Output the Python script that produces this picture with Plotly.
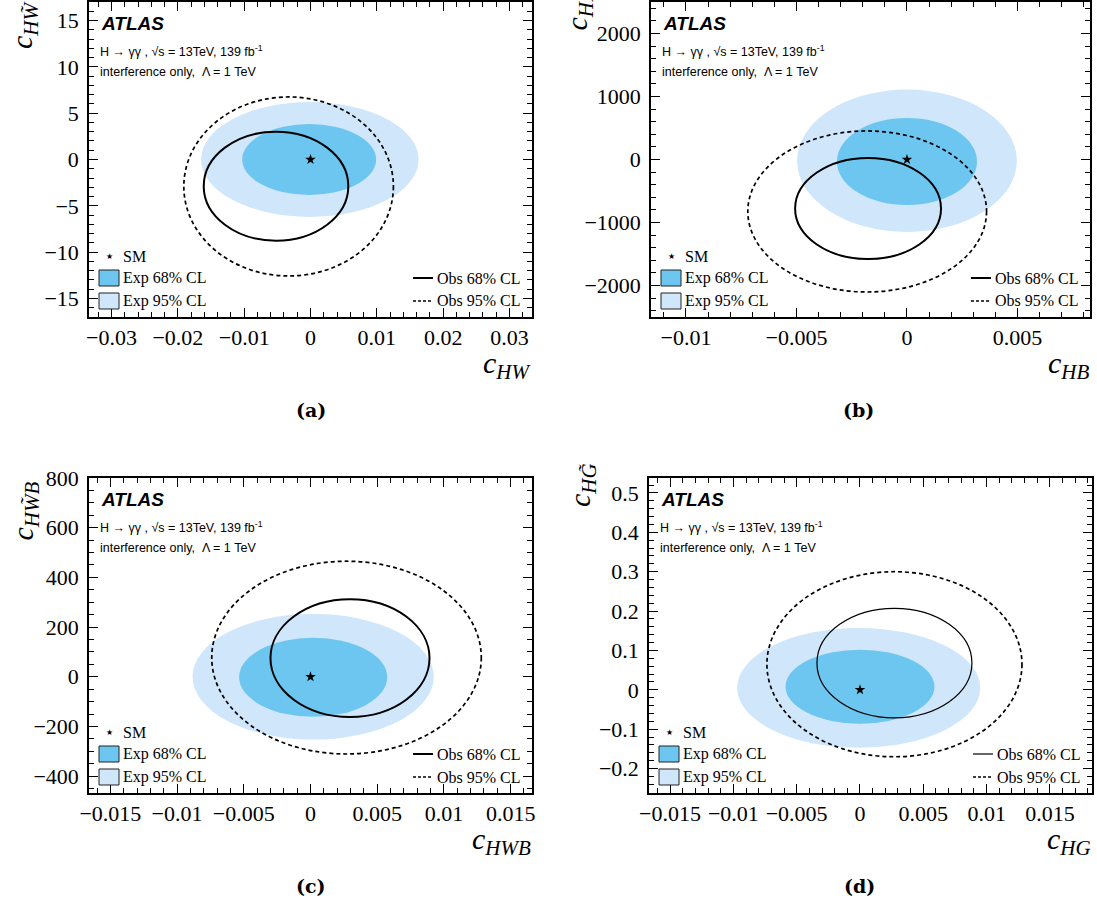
import plotly.graph_objects as go

W, H = 1097, 910

# ---- data ----
panel_tags = ["(a)", "(b)", "(c)", "(d)"]
x_subs = ["HW", "HB", "HWB", "HG"]
y_subs = ["HW\u0303", "HB\u0303", "HW\u0303B", "HG\u0303"]

x_lo = [-0.0334, -0.01158, -0.0166, -0.01666]
x_hi = [0.0334, 0.00828, 0.0166, 0.01832]
y_lo = [-17, -2500, -468, -0.262]
y_hi = [17, 2500, 800, 0.538]

x_ticks = [[-0.03, -0.02, -0.01, 0, 0.01, 0.02, 0.03],
           [-0.01, -0.005, 0, 0.005],
           [-0.015, -0.01, -0.005, 0, 0.005, 0.01, 0.015],
           [-0.015, -0.01, -0.005, 0, 0.005, 0.01, 0.015]]
y_ticks = [[-15, -10, -5, 0, 5, 10, 15],
           [-2000, -1000, 0, 1000, 2000],
           [-400, -200, 0, 200, 400, 600, 800],
           [-0.2, -0.1, 0, 0.1, 0.2, 0.3, 0.4, 0.5]]
x_minor = [0.002, 0.001, 0.001, 0.001]
y_minor = [1, 200, 50, 0.02]

sm_x = [0, 0, 0, 0]
sm_y = [0, 0, 0, 0]

# contours as centre / half-width / half-height
exp95_cx = [-0.0001, 0.0, 0.0002, -0.0001]
exp95_cy = [0.0, -20, 0, 0.005]
exp95_rx = [0.0164, 0.00497, 0.00904, 0.0096]
exp95_ry = [6.2, 1130, 253, 0.152]

exp68_cx = [-0.0002, 0.0, 0.0002, 0.0]
exp68_cy = [0.0, -32, -2, 0.008]
exp68_rx = [0.0101, 0.00317, 0.00555, 0.00588]
exp68_ry = [3.83, 690, 159, 0.094]

obs68_cx = [-0.0052, -0.00176, 0.00296, 0.00272]
obs68_cy = [-2.88, -778, 75, 0.068]
obs68_rx = [0.0109, 0.0033, 0.00596, 0.00612]
obs68_ry = [5.88, 802, 237, 0.139]

obs95_cx = [-0.0033, -0.0018, 0.0027, 0.00272]
obs95_cy = [-2.91, -825, 77, 0.065]
obs95_rx = [0.0158, 0.0054, 0.0101, 0.01007]
obs95_ry = [9.66, 1278, 388, 0.235]

# ---- styling ----
C95 = "#d0e6fb"
C68 = "#6cc6ef"
obs68_width = [2, 2, 2, 1.2]
SERIF = "Liberation Serif"
SANS = "Liberation Sans"

# frames in pixels: left, right, top, bottom
frames = [(89, 532, 2, 317), (651, 1090, 2, 317),
          (89, 532, 478, 793), (649, 1092, 478, 793)]
caption_xy = [(311, 410), (858, 410), (311, 886), (859, 886)]
# y-title: centre x, bottom y of the rotated text
ytitle_pos = [(24, 50), (579, 32), (24, 542), (582, 508)]


def px(x):
    return x / W


def py(y):
    return 1 - y / H


def fmt(v):
    return ("%g" % v).replace("-", "\u2212")


fig = go.Figure()
shapes = []
annotations = []


def text(x, y, s, size, family=SERIF, xanchor="left", yanchor="middle", **kw):
    annotations.append(dict(x=x, y=y, xref="paper", yref="paper", text=s, showarrow=False,
                            xanchor=xanchor, yanchor=yanchor, borderpad=0,
                            font=dict(family=family, size=size, color="black"), **kw))


for i in range(4):
    L, R, T, B = frames[i]
    xa = "x" if i == 0 else f"x{i+1}"
    ya = "y" if i == 0 else f"y{i+1}"
    xkey = "xaxis" if i == 0 else f"xaxis{i+1}"
    ykey = "yaxis" if i == 0 else f"yaxis{i+1}"

    common = dict(showline=True, mirror="allticks", linecolor="black", linewidth=1.6,
                  ticks="inside", ticklen=9, tickwidth=1.2, tickcolor="black",
                  showgrid=False, zeroline=False, automargin=False,
                  tickfont=dict(family=SERIF, size=22, color="black"))
    xaxis = dict(common, domain=[px(L), px(R)], range=[x_lo[i], x_hi[i]], anchor=ya,
                 tickmode="array", tickvals=x_ticks[i],
                 ticktext=[fmt(v) for v in x_ticks[i]],
                 minor=dict(ticks="inside", ticklen=5, tickwidth=1.2, tickcolor="black",
                            dtick=x_minor[i], tick0=0, showgrid=False))
    yaxis = dict(common, domain=[py(B), py(T)], range=[y_lo[i], y_hi[i]], anchor=xa,
                 tickmode="array", tickvals=y_ticks[i],
                 ticktext=[fmt(v) for v in y_ticks[i]], ticklabelstandoff=4,
                 minor=dict(ticks="inside", ticklen=5, tickwidth=1.2, tickcolor="black",
                            dtick=y_minor[i], tick0=0, showgrid=False))
    fig.update_layout(**{xkey: xaxis, ykey: yaxis})

    # contours
    def ell(cx, cy, rx, ry, **kw):
        return dict(type="circle", xref=xa, yref=ya, x0=cx - rx, x1=cx + rx,
                    y0=cy - ry, y1=cy + ry, layer="between", **kw)

    shapes.append(ell(exp95_cx[i], exp95_cy[i], exp95_rx[i], exp95_ry[i],
                      fillcolor=C95, line=dict(width=0)))
    shapes.append(ell(exp68_cx[i], exp68_cy[i], exp68_rx[i], exp68_ry[i],
                      fillcolor=C68, line=dict(width=0)))
    shapes.append(ell(obs68_cx[i], obs68_cy[i], obs68_rx[i], obs68_ry[i],
                      line=dict(color="black", width=obs68_width[i])))
    shapes.append(ell(obs95_cx[i], obs95_cy[i], obs95_rx[i], obs95_ry[i],
                      line=dict(color="black", width=1.7, dash="4px,3px")))

    # SM point
    fig.add_trace(go.Scatter(x=[sm_x[i]], y=[sm_y[i]], mode="markers", xaxis=xa, yaxis=ya,
                             marker=dict(symbol="star", size=8, color="black"),
                             showlegend=False, hoverinfo="skip"))

    # ATLAS label block
    text(px(L + 11), py(T + 21), "<b><i>ATLAS</i></b>", 19, family=SANS)
    text(px(L + 10), py(T + 49),
         "H \u2192 \u03b3\u03b3 , \u221as = 13TeV, 139 fb<sup>-1</sup>", 12.5, family=SANS)
    text(px(L + 10), py(T + 70), "interference only,  \u039b = 1 TeV", 12.5, family=SANS)

    # legend (left column)
    text(px(L + 20), py(B - 61), "\u2605", 8, family="DejaVu Sans", xanchor="center")
    for lab, off in (("SM", 61), ("Exp 68% CL", 39), ("Exp 95% CL", 16)):
        text(px(L + 33), py(B - off), lab, 16)
    for col, off in ((C68, 39), (C95, 16)):
        shapes.append(dict(type="rect", xref="paper", yref="paper",
                           x0=px(L + 10), x1=px(L + 30), y0=py(B - off + 8), y1=py(B - off - 8),
                           fillcolor=col, line=dict(color="#222222", width=1)))

    # legend (right column)
    for lab, off, dash, lw in (("Obs 68% CL", 39, "solid", obs68_width[i]),
                               ("Obs 95% CL", 16, "3px,2px", 1.6)):
        shapes.append(dict(type="line", xref="paper", yref="paper",
                           x0=px(R - 119), x1=px(R - 99), y0=py(B - off), y1=py(B - off),
                           line=dict(color="black", width=lw, dash=dash)))
        text(px(R - 96), py(B - off), lab, 16)

    # axis titles
    text(px(R), py(B + 48), f"<i>c</i><sub><i>{x_subs[i]}</i></sub>", 30, xanchor="right")
    tx, tb = ytitle_pos[i]
    text(px(tx), py(tb), f"<i>c</i><sub><i>{y_subs[i]}</i></sub>", 30,
         xanchor="center", yanchor="bottom", textangle=-90)

    # panel caption
    cx, cy = caption_xy[i]
    text(px(cx), py(cy), f"<b>{panel_tags[i]}</b>", 19, family="DejaVu Serif",
         xanchor="center")

fig.update_layout(width=W, height=H, margin=dict(l=0, r=0, t=0, b=0, pad=0, autoexpand=False),
                  font=dict(family=SERIF, size=22, color="black"),
                  plot_bgcolor="white", paper_bgcolor="white", showlegend=False,
                  shapes=shapes, annotations=annotations)

fig.write_html("out.html", config={"displayModeBar": False},
               post_script="document.body.style.margin='0px';")
